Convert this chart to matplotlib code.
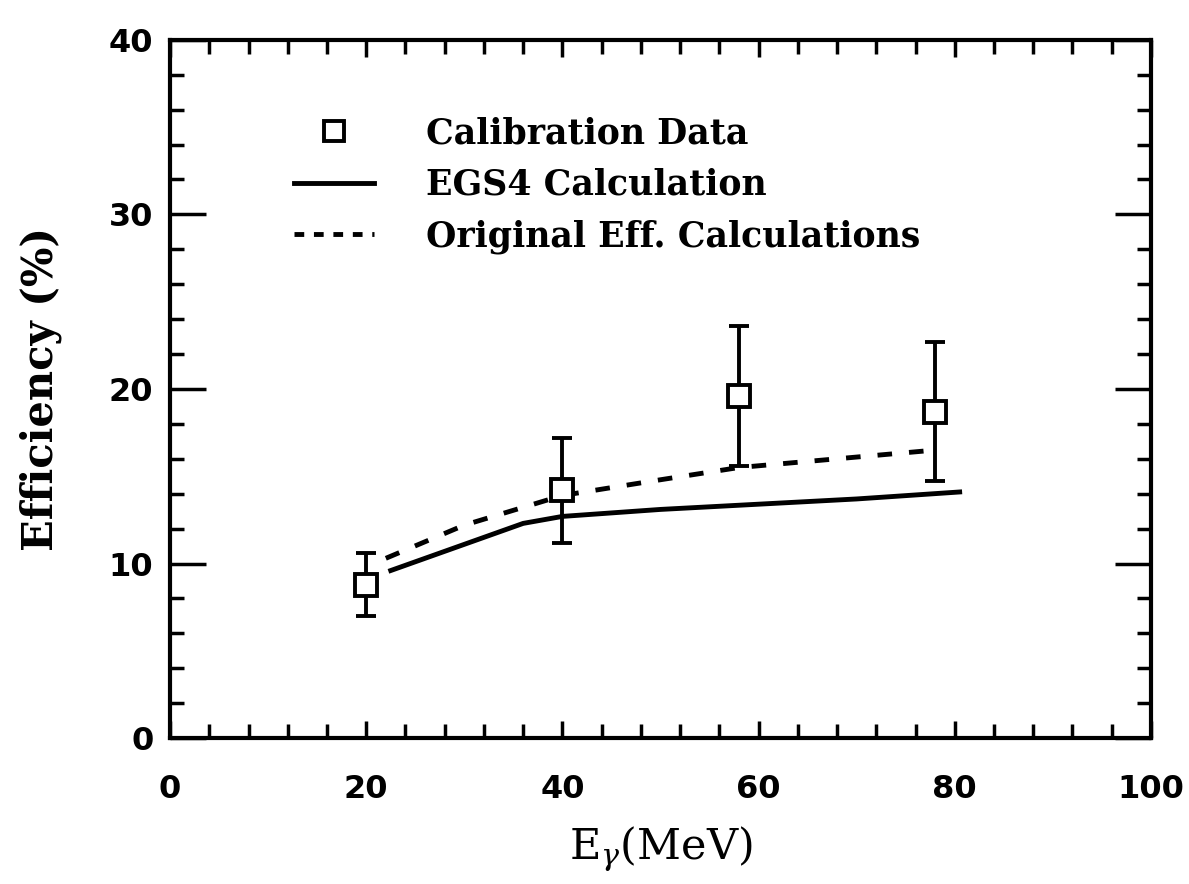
import matplotlib.pyplot as plt
import numpy as np
from matplotlib.ticker import MultipleLocator
from matplotlib.lines import Line2D

# calibration data
cal_e = [20, 40, 58, 78]
cal_eff = [8.8, 14.2, 19.6, 18.7]
cal_err = [1.8, 3.0, 4.0, 4.0]

# EGS4 calculation
egs_e = [22.5, 27, 32, 36, 40, 50, 60, 70, 80.5]
egs_eff = [9.6, 10.5, 11.5, 12.3, 12.7, 13.1, 13.4, 13.7, 14.1]

# original efficiency calculations
orig_e = [22, 30, 40, 50, 58, 68, 78]
orig_eff = [10.3, 12.2, 13.9, 14.8, 15.5, 16.0, 16.5]

legend_labels = ['Calibration Data', 'EGS4 Calculation', 'Original Eff. Calculations']

plt.rcParams['font.family'] = ['DejaVu Serif']
plt.rcParams['mathtext.fontset'] = 'dejavuserif'

fig = plt.figure(figsize=(11.89, 8.84), dpi=100)
ax = fig.add_axes([0.143, 0.165, 0.825, 0.79])

ax.errorbar(cal_e, cal_eff, yerr=cal_err, fmt='s', ms=16, mfc='white',
            mec='black', mew=2.8, ecolor='black', elinewidth=2.8,
            capsize=7, capthick=4, color='black')
ax.plot(egs_e, egs_eff, '-', color='black', lw=3.5)
ax.plot(orig_e, orig_eff, '--', color='black', lw=3.5, dashes=(3, 3.5))

handles = [
    Line2D([], [], ls='none', marker='s', ms=14, mfc='white', mec='black', mew=2.8),
    Line2D([], [], ls='-', color='black', lw=3.5),
    Line2D([], [], ls='--', color='black', lw=3.5, dashes=(2, 2)),
]
ax.legend(handles, legend_labels, loc='upper left', bbox_to_anchor=(0.095, 0.935),
          frameon=False, handlelength=2.3, handletextpad=1.5, labelspacing=0.5,
          prop={'size': 25, 'weight': 'bold'})

ax.set_xlim(0, 100)
ax.set_ylim(0, 40)
ax.xaxis.set_major_locator(MultipleLocator(20))
ax.xaxis.set_minor_locator(MultipleLocator(4))
ax.yaxis.set_major_locator(MultipleLocator(10))
ax.yaxis.set_minor_locator(MultipleLocator(2))

ax.tick_params(axis='both', which='both', direction='in', top=True, right=True,
               width=2.5, labelsize=23)
ax.tick_params(axis='x', which='major', length=12, pad=26)
ax.tick_params(axis='x', which='minor', length=10)
ax.tick_params(axis='y', which='major', length=26, pad=12)
ax.tick_params(axis='y', which='minor', length=10)
for lab in ax.get_xticklabels() + ax.get_yticklabels():
    lab.set_fontweight('bold')
    lab.set_family('DejaVu Sans')
for sp in ax.spines.values():
    sp.set_linewidth(3)

ax.set_xlabel(r'E$_\gamma$(MeV)', fontsize=31, labelpad=14)
ax.set_ylabel('Efficiency (%)', fontsize=30, fontweight='bold', labelpad=34)

fig.savefig('out.png', dpi=100)
